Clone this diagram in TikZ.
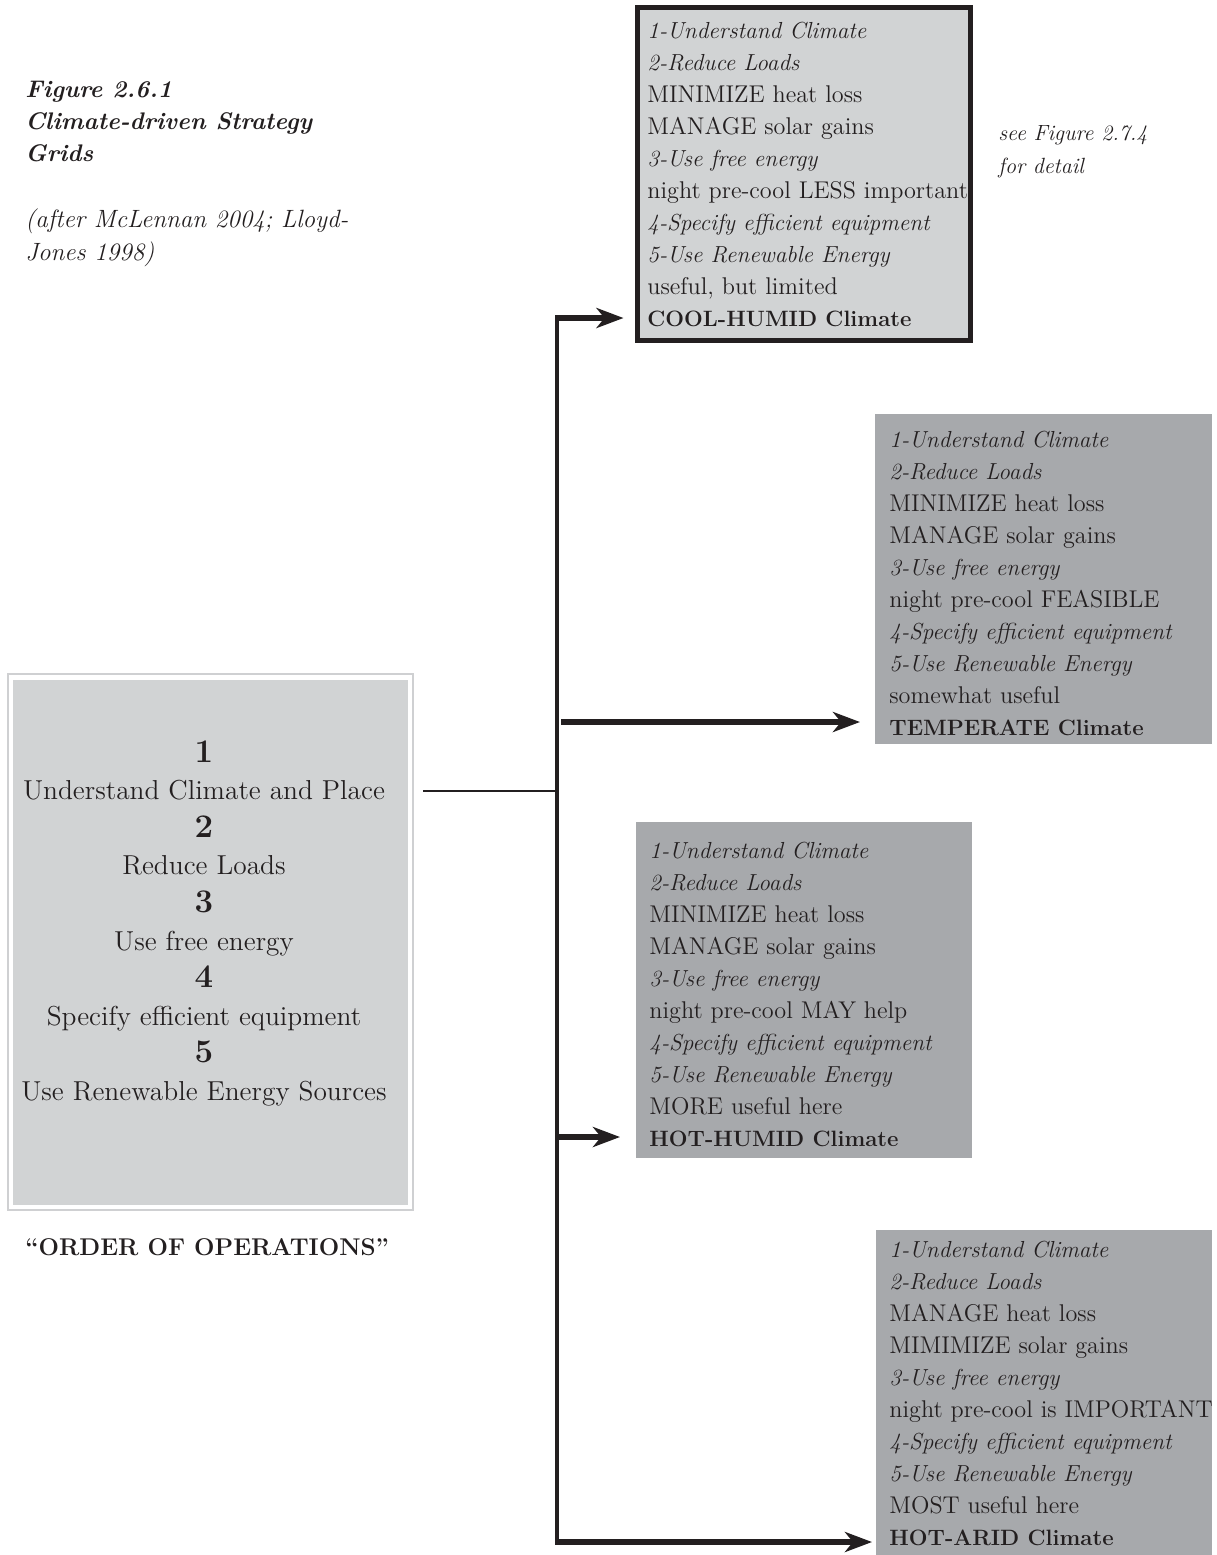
\documentclass[tikz,border=0pt]{standalone}
\usetikzlibrary{arrows.meta}
\definecolor{ink}{HTML}{231F20}
\definecolor{lightfill}{HTML}{D1D3D4}
\definecolor{darkfill}{HTML}{A7A9AC}
\definecolor{rimgray}{HTML}{CFD0D2}
\newcommand{\itl}{\fontsize{11.6}{16}\selectfont\itshape}
\newcommand{\bfl}{\fontsize{11.1}{16}\selectfont\bfseries}
\newcommand{\bignum}[1]{{\fontsize{16.5}{18.7}\selectfont\bfseries #1}}
\begin{document}
\begin{tikzpicture}[x=0.5pt,y=-0.5pt,
  boxtext/.style={anchor=north west, inner sep=0pt, align=left, text=ink,
    font=\fontsize{12.1}{16}\selectfont},
  panel/.style={anchor=north west, inner sep=0pt, outer sep=0pt},
  trunkline/.style={draw=ink, line width=1.75pt},
  feedline/.style={draw=ink, line width=1.2pt},
  feed/.style={draw=ink, line width=3pt, -{Stealth[length=13.5pt,width=10pt,inset=4pt]}},
]
\useasboundingbox[fill=white] (0,0) rectangle (1217,1555);

% caption
\node[anchor=north west, inner sep=0pt, align=left, text=ink,
  font=\fontsize{12}{16}\selectfont\bfseries\itshape] (cap) at (25,81)
  {Figure 2.6.1\\Climate-driven Strategy\\Grids};
\node[anchor=north west, inner sep=0pt, align=left, text=ink,
  font=\fontsize{12.5}{16.5}\selectfont\itshape] (src) at (25,208)
  {(after McLennan 2004; Lloyd-\\Jones 1998)};
\node[anchor=north west, inner sep=0pt, align=left, text=ink,
  font=\fontsize{11}{16.5}\selectfont\itshape] (see) at (998,125)
  {see Figure 2.7.4\\for detail};

% left box
\node[panel, draw=rimgray, line width=0.75pt, minimum width=202.5pt, minimum height=268pt] (ops) at (8,674) {};
\node[panel, fill=lightfill, minimum width=197.5pt, minimum height=262.5pt] (opsin) at (13,680) {};
\node[anchor=north, inner sep=0pt, align=center, text=ink,
  font=\fontsize{13.7}{18.8}\selectfont] (opstext) at (204,740)
  {\bignum{1}\\Understand Climate and Place\\
   \bignum{2}\\Reduce Loads\\
   \bignum{3}\\Use free energy\\
   \bignum{4}\\Specify efficient equipment\\
   \bignum{5}\\Use Renewable Energy Sources};
\node[anchor=base west, inner sep=0pt, text=ink,
  font=\fontsize{12.1}{15}\selectfont\bfseries] (order) at (25,1255)
  {``ORDER OF OPERATIONS''};

% right panels
\node[panel, draw=ink, line width=2.5pt, fill=lightfill, minimum width=166.5pt, minimum height=166.5pt] (cool) at (637.5,7.5) {};
\node[boxtext] (cooltext) at (647,21.8)
  {\itl 1-Understand Climate\\\itl 2-Reduce Loads\\MINIMIZE heat loss\\MANAGE solar gains\\
   \itl 3-Use free energy\\night pre-cool LESS important\\\itl 4-Specify efficient equipment\\
   \itl 5-Use Renewable Energy\\useful, but limited\\\bfl COOL-HUMID Climate};

\node[panel, fill=darkfill, minimum width=168.5pt, minimum height=165pt] (temp) at (875,414) {};
\node[boxtext] (temptext) at (889,430.8)
  {\itl 1-Understand Climate\\\itl 2-Reduce Loads\\MINIMIZE heat loss\\MANAGE solar gains\\
   \itl 3-Use free energy\\night pre-cool FEASIBLE\\\itl 4-Specify efficient equipment\\
   \itl 5-Use Renewable Energy\\somewhat useful\\\bfl TEMPERATE Climate};

\node[panel, fill=darkfill, minimum width=168pt, minimum height=168pt] (humid) at (636,822) {};
\node[boxtext] (humidtext) at (649,841.8)
  {\itl 1-Understand Climate\\\itl 2-Reduce Loads\\MINIMIZE heat loss\\MANAGE solar gains\\
   \itl 3-Use free energy\\night pre-cool MAY help\\\itl 4-Specify efficient equipment\\
   \itl 5-Use Renewable Energy\\MORE useful here\\\bfl HOT-HUMID Climate};

\node[panel, fill=darkfill, minimum width=168pt, minimum height=165pt] (arid) at (876,1230) {};
\node[boxtext] (aridtext) at (889,1240.8)
  {\itl 1-Understand Climate\\\itl 2-Reduce Loads\\MANAGE heat loss\\MIMIMIZE solar gains\\
   \itl 3-Use free energy\\night pre-cool is IMPORTANT\\\itl 4-Specify efficient equipment\\
   \itl 5-Use Renewable Energy\\MOST useful here\\\bfl HOT-ARID Climate};

% connectors
\coordinate (jtop) at (557,318);
\coordinate (jleft) at (557,791);
\coordinate (jtemp) at (561,722);
\coordinate (jhum) at (557,1137);
\coordinate (jbot) at (557,1542);
\draw[trunkline] (jtop) -- (jbot);
\draw[feedline, shorten <=5pt] (ops.east |- jleft) -- (jleft);
\draw[feed, shorten >=7pt] ([xshift=-1pt]jtop) -- (jtop -| cool.west);
\draw[feed, shorten >=7.5pt] (jtemp) -- (jtemp -| temp.west);
\draw[feed, shorten >=8pt] (jhum) -- (jhum -| humid.west);
\draw[feed, shorten >=2pt] ([xshift=-1pt]jbot) -- (jbot -| arid.west);
\end{tikzpicture}
\end{document}
